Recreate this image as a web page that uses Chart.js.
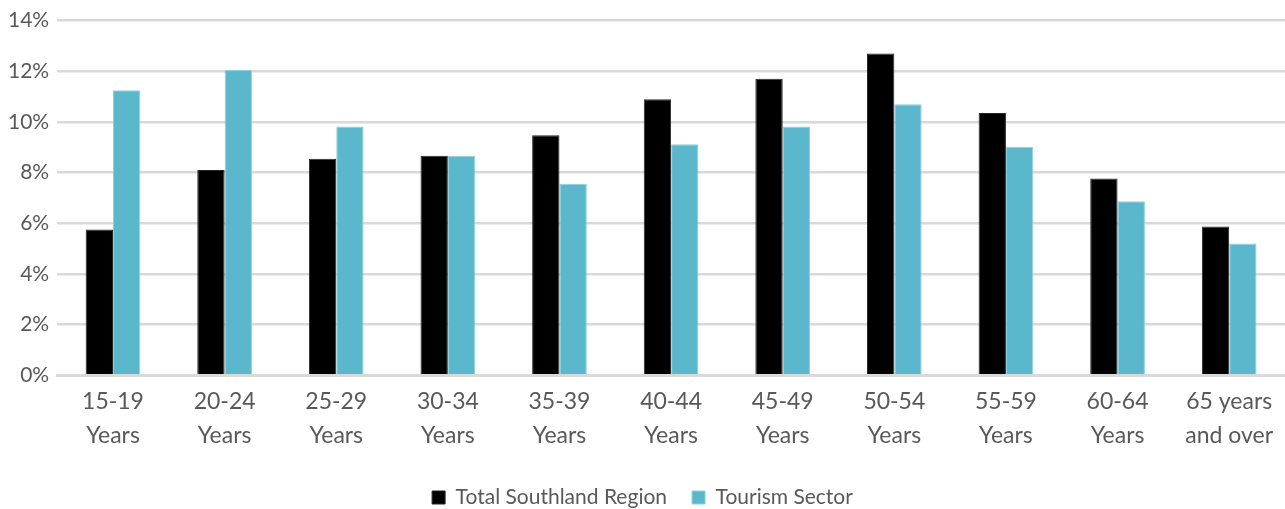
<!DOCTYPE html>
<html>
<head>
<meta charset="utf-8">
<script src="https://cdn.jsdelivr.net/npm/chart.js@4"></script>
<style>
  html, body { margin: 0; padding: 0; background: #fff; }
  #wrap { width: 1285px; height: 509px; }
</style>
</head>
<body>
<div id="wrap"><canvas id="ageChart"></canvas></div>
<script>
var ageGroups = [
  ['15-19', 'Years'], ['20-24', 'Years'], ['25-29', 'Years'], ['30-34', 'Years'],
  ['35-39', 'Years'], ['40-44', 'Years'], ['45-49', 'Years'], ['50-54', 'Years'],
  ['55-59', 'Years'], ['60-64', 'Years'], ['65 years', 'and over']
];
var southland = [5.75, 8.1, 8.55, 8.67, 9.47, 10.9, 11.7, 12.7, 10.35, 7.77, 5.87];
var tourism = [11.25, 12.05, 9.82, 8.67, 7.56, 9.12, 9.82, 10.7, 9.02, 6.87, 5.2];
var yTicks = [0, 2, 4, 6, 8, 10, 12, 14];

Chart.defaults.font.family = 'Lato, sans-serif';
Chart.defaults.color = '#595959';

var ctx = document.getElementById('ageChart').getContext('2d');
var ageChart = new Chart(ctx, {
  type: 'bar',
  data: {
    labels: ageGroups,
    datasets: [{
      label: 'Total Southland Region',
      data: southland,
      backgroundColor: '#000000',
      borderColor: '#262626',
      borderWidth: 1
    }, {
      label: 'Tourism Sector',
      data: tourism,
      backgroundColor: '#5bb7cc',
      borderColor: '#8fd0de',
      borderWidth: 1
    }]
  },
  options: {
    responsive: true,
    maintainAspectRatio: false,
    animation: false,
    // the legend sits low, partly below the canvas edge
    layout: { padding: { top: 1, right: 0, left: 0, bottom: -9 } },
    datasets: { bar: { categoryPercentage: 0.49, barPercentage: 1.0 } },
    scales: {
      x: {
        grid: { display: false, drawTicks: false },
        border: { display: true, color: '#d9d9d9', width: 3 },
        ticks: { font: { size: 23, lineHeight: 1.45 }, padding: 10, maxRotation: 0 }
      },
      y: {
        min: 0,
        max: 14,
        afterBuildTicks: function (axis) {
          axis.ticks = yTicks.map(function (v) { return { value: v }; });
        },
        grid: { color: '#d9d9d9', lineWidth: 2.5, drawTicks: false },
        border: { display: false },
        ticks: {
          font: { size: 21 },
          padding: 8,
          callback: function (v) { return v + '%'; }
        }
      }
    },
    plugins: {
      tooltip: { enabled: false },
      legend: {
        position: 'bottom',
        labels: {
          font: { size: 21, lineHeight: 1.0 },
          boxWidth: 13,
          boxHeight: 13,
          padding: 25,
          color: '#595959'
        }
      }
    }
  }
});
</script>
</body>
</html>
